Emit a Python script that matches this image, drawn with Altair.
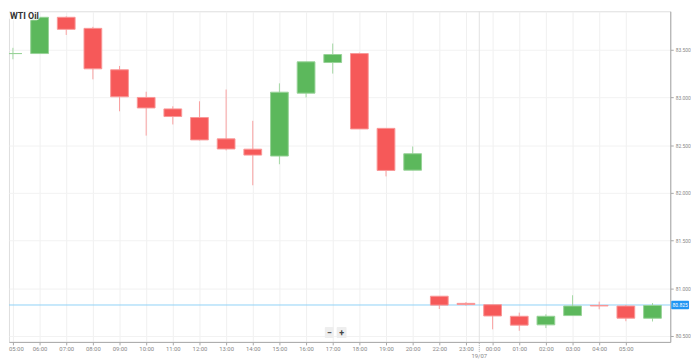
import altair as alt
import pandas as pd

times = ["05:00", "06:00", "07:00", "08:00", "09:00", "10:00", "11:00", "12:00",
         "13:00", "14:00", "15:00", "16:00", "17:00", "18:00", "19:00", "20:00",
         "22:00", "23:00", "00:00", "01:00", "02:00", "03:00", "04:00", "05:00", "06:00"]
opens = [83.46, 83.46, 83.84, 83.724, 83.29, 83.0, 82.88, 82.79, 82.566, 82.458,
         82.386, 83.045, 83.366, 83.46, 82.676, 82.238, 80.917, 80.842, 80.828,
         80.707, 80.617, 80.714, 80.82, 80.814, 80.686]
highs = [83.52, 83.84, 83.85, 83.74, 83.33, 83.06, 82.907, 82.96, 83.083, 82.755,
         83.148, 83.373, 83.565, 83.47, 82.676, 82.486, 80.917, 80.855, 80.828,
         80.745, 80.728, 80.927, 80.86, 80.825, 80.845]
lows = [83.40, 83.46, 83.655, 83.19, 82.855, 82.60, 82.717, 82.55, 82.445, 82.08,
        82.30, 83.0, 83.25, 82.67, 82.173, 82.238, 80.783, 80.818, 80.57,
        80.555, 80.583, 80.714, 80.78, 80.655, 80.652]
closes = [83.46, 83.84, 83.714, 83.30, 83.007, 82.89, 82.80, 82.555, 82.46, 82.396,
          83.055, 83.373, 83.45, 82.67, 82.235, 82.41, 80.824, 80.83, 80.71,
          80.614, 80.707, 80.814, 80.815, 80.687, 80.82]
last_price = 80.825
y_ticks = [80.5, 81.0, 81.5, 82.0, 82.5, 83.0, 83.5]
date_label = "19/07"
title_text = "WTI Oil"

df = pd.DataFrame({
    "idx": list(range(len(times))),
    "time": times,
    "open": opens,
    "high": highs,
    "low": lows,
    "close": closes,
})
df["up"] = (df["close"] >= df["open"]).astype(int)
df["x0"] = df["idx"] - 0.333
df["x1"] = df["idx"] + 0.333

W, H = 670, 335
xscale = alt.Scale(domain=[-0.148, 24.667], nice=False, zero=False)
yscale = alt.Scale(domain=[80.438, 83.903], nice=False, zero=False)

label_arr = "[" + ",".join("'" + t + "'" for t in times) + "]"

x_axis = alt.Axis(values=list(range(len(times) - 1)),
                  labelExpr=label_arr + "[datum.value]",
                  title=None, grid=True, gridColor="#f0f0f0",
                  domainColor="#a8a8a8", tickColor="#a8a8a8", tickSize=3,
                  labelFontSize=6, labelColor="#888", labelFont="Roboto",
                  labelPadding=1, labelOverlap=False, labelBound=False,
                  labelFlush=False,
                  labelOffset={"condition": {"test": "datum.value === 0", "value": 3},
                               "value": 0})
y_axis = alt.Axis(orient="right", values=y_ticks, format=".3f", title=None,
                  grid=True, gridColor="#f2f2f2", domainColor="#a8a8a8",
                  tickColor="#a8a8a8", tickSize=3, labelFontSize=5,
                  labelColor="#888", labelFont="Roboto", labelPadding=2,
                  labelOverlap=False)

base = alt.Chart(df)

GREEN, RED = "#5cb85c", "#f65959"
up = alt.datum.up == 1

wicks = base.mark_rule(strokeWidth=1, clip=True).encode(
    x=alt.X("idx:Q", scale=xscale, axis=x_axis),
    y=alt.Y("low:Q", scale=yscale, axis=y_axis),
    y2="high:Q",
    color=alt.condition(up, alt.value("#a3d7a3"), alt.value("#f9a0a0")),
)

bodies = base.mark_rect(strokeWidth=1, clip=True).encode(
    x=alt.X("x0:Q", scale=xscale, axis=x_axis),
    x2="x1:Q",
    y=alt.Y("open:Q", scale=yscale, axis=y_axis),
    y2="close:Q",
    fill=alt.condition(up, alt.value(GREEN), alt.value(RED)),
    stroke=alt.condition(up, alt.value("#97d297"), alt.value("#f99797")),
)

sep_df = pd.DataFrame({"x": [17.5], "label": [date_label], "price": [last_price]})
sep = alt.Chart(sep_df).mark_rule(color="#e2e2e2", strokeWidth=1).encode(
    x=alt.X("x:Q", scale=xscale, axis=x_axis))
sep_tick = alt.Chart(sep_df).mark_rule(color="#aaa", strokeWidth=1, strokeDash=[1, 1]).encode(
    x=alt.X("x:Q", scale=xscale, axis=x_axis), y=alt.value(336), y2=alt.value(346))
date_txt = alt.Chart(sep_df).mark_text(fontSize=6, color="#888", font="Roboto").encode(
    x=alt.X("x:Q", scale=xscale, axis=x_axis), y=alt.value(349), text="label:N")

price_line = alt.Chart(sep_df).mark_rule(color="#8fd1f7", strokeWidth=1).encode(
    y=alt.Y("price:Q", scale=yscale, axis=y_axis))
sep_df2 = sep_df.copy()
sep_df2["p0"] = last_price - 0.045
sep_df2["p1"] = last_price + 0.045
price_box = alt.Chart(sep_df2).mark_rect(color="#2196f3", cornerRadius=1).encode(
    x=alt.value(671), x2=alt.value(689),
    y=alt.Y("p0:Q", scale=yscale, axis=y_axis), y2="p1:Q")
price_txt = alt.Chart(sep_df).mark_text(fontSize=5, color="white", font="Roboto",
                                        align="center", baseline="middle").encode(
    x=alt.value(680), y=alt.Y("price:Q", scale=yscale, axis=y_axis),
    text=alt.Text("price:Q", format=".3f"))

title_df = pd.DataFrame({"t": [title_text], "minus": ["\u2212"], "plus": ["+"]})
title_bg = alt.Chart(title_df).mark_rect(color="white", opacity=0.85, cornerRadius=3).encode(
    x=alt.value(0), x2=alt.value(31), y=alt.value(0), y2=alt.value(9))
title_txt = alt.Chart(title_df).mark_text(fontSize=9, fontWeight="bold", color="#333",
                                          font="Roboto", align="left", baseline="middle").encode(
    x=alt.value(1), y=alt.value(4.5), text="t:N")

zoom_bg1 = alt.Chart(title_df).mark_rect(color="#eeeeee", cornerRadius=1).encode(
    x=alt.value(320), x2=alt.value(329), y=alt.value(320), y2=alt.value(331))
zoom_bg2 = alt.Chart(title_df).mark_rect(color="#eeeeee", cornerRadius=1).encode(
    x=alt.value(332), x2=alt.value(342), y=alt.value(320), y2=alt.value(331))
zoom_t1 = alt.Chart(title_df).mark_text(fontSize=9, fontWeight="bold", color="#444",
                                        font="Roboto", baseline="middle").encode(
    x=alt.value(324.5), y=alt.value(325.5), text="minus:N")
zoom_t2 = alt.Chart(title_df).mark_text(fontSize=9, fontWeight="bold", color="#444",
                                        font="Roboto", baseline="middle").encode(
    x=alt.value(337), y=alt.value(325.5), text="plus:N")

chart = alt.layer(
    sep, sep_tick, price_line, wicks, bodies, price_box, price_txt, date_txt,
    title_bg, title_txt, zoom_bg1, zoom_bg2, zoom_t1, zoom_t2
).properties(width=W, height=H, padding=0).configure_view(strokeWidth=0).configure(
    background="white").configure_axis(labelOverlap=False)

chart.save("out.html", embed_options={"renderer": "svg", "actions": False})
